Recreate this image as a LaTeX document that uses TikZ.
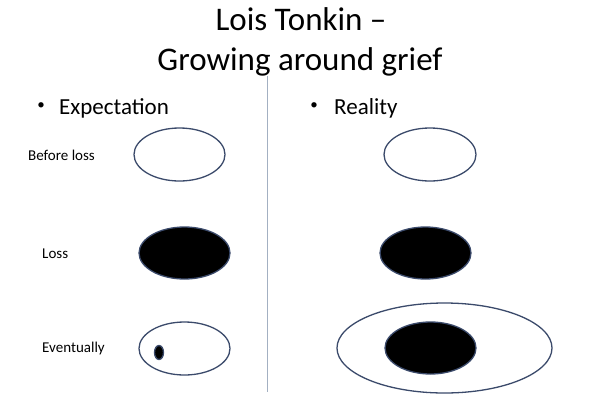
\documentclass[tikz,border=0pt]{standalone}
\usepackage{fontspec}
\setmainfont{Carlito}
\definecolor{edgeblue}{HTML}{3B4A6B}
\definecolor{divider}{HTML}{A3B0C2}
\begin{document}
\begin{tikzpicture}[x=1pt,y=-1pt,
  title/.style={anchor=base,font=\fontsize{33}{38}\selectfont,inner sep=0pt},
  head/.style={anchor=base west,font=\fontsize{23}{28}\selectfont,inner sep=0pt},
  dot/.style={anchor=center,font=\fontsize{15}{16}\selectfont,inner sep=0pt},
  lbl/.style={anchor=west,font=\fontsize{15}{16}\selectfont,inner sep=0pt},
  ring/.style={draw=edgeblue,line width=1.3pt,fill=white},
  blob/.style={draw=edgeblue,line width=1.3pt,fill=black}]
\useasboundingbox[fill=white] (0,0) rectangle (600,400);
\node[title] (t1) at (301,30) {Lois Tonkin –};
\node[title] (t2) at (300,70) {Growing around grief};
\coordinate (dtop) at (267.5,76);
\coordinate (dbot) at (267.5,392);
\draw[divider,line width=1.2pt] (dtop) -- (dbot);
\node[dot] (b1) at (41,106) {•};
\node[head] (h1) at (59,114) {Expectation};
\node[dot] (b2) at (314,106) {•};
\node[head] (h2) at (334,114) {Reality};
\node[lbl] (l1) at (28,155) {Before loss};
\node[lbl] (l2) at (42,254) {Loss};
\node[lbl] (l3) at (42,348) {Eventually};
% expectation column
\draw[ring] (179.5,154.5) ellipse [x radius=45.5,y radius=26.5];
\draw[blob] (184.5,253) ellipse [x radius=45.5,y radius=26];
\draw[ring] (184.5,348.5) ellipse [x radius=45.5,y radius=26.5];
\draw[blob] (159,352.5) ellipse [x radius=4.5,y radius=7];
% reality column
\draw[ring] (430,154.5) ellipse [x radius=46,y radius=26.5];
\draw[blob] (425.5,253) ellipse [x radius=45.5,y radius=26];
\draw[ring] (444.5,348) ellipse [x radius=107.5,y radius=45];
\draw[blob] (430.5,348) ellipse [x radius=45.5,y radius=26];
\end{tikzpicture}
\end{document}
